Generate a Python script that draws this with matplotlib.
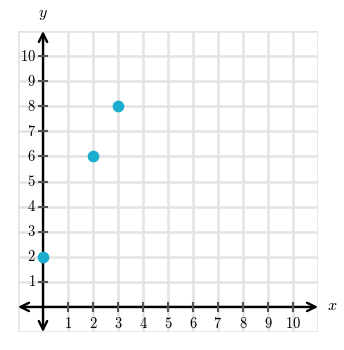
import matplotlib.pyplot as plt

# data points
xs = [0, 2, 3]
ys = [2, 6, 8]
ticks = list(range(1, 11))

plt.rcParams['mathtext.fontset'] = 'cm'

fig = plt.figure(figsize=(3.44, 3.5), dpi=100)
ax = fig.add_axes([18 / 344, 1 - 332 / 350, 300 / 344, 301 / 350])
ax.set_xlim(-1, 11)
ax.set_ylim(-1, 11)

# grid
for v in range(-1, 12):
    ax.axvline(v, color='#e3e3e3', lw=1.8, zorder=0)
    ax.axhline(v, color='#e3e3e3', lw=1.8, zorder=0)

for s in ax.spines.values():
    s.set_visible(False)
ax.set_xticks([])
ax.set_yticks([])

# axes with arrows
arrow = dict(arrowstyle='<->', color='black', lw=1.7, mutation_scale=15,
             shrinkA=0, shrinkB=0)
ax.annotate('', xy=(11, 0), xytext=(-1, 0), arrowprops=arrow, zorder=2)
ax.annotate('', xy=(0, 11), xytext=(0, -1), arrowprops=arrow, zorder=2)

# tick marks and labels
for t in ticks:
    ax.plot([t, t], [-0.2, 0.2], color='#555555', lw=1.5, zorder=3,
            solid_capstyle='butt')
    ax.plot([-0.2, 0.2], [t, t], color='#555555', lw=1.5, zorder=3,
            solid_capstyle='butt')
    ax.text(t, -0.35, f'${t}$', ha='center', va='top', fontsize=10.5)
    ax.text(-0.28, t, f'${t}$', ha='right', va='center', fontsize=10.5)

ax.text(11.35, 0.05, '$x$', ha='left', va='center', fontsize=11.5, clip_on=False)
ax.text(0, 11.35, '$y$', ha='center', va='bottom', fontsize=11.5, clip_on=False)

ax.scatter(xs, ys, s=55, color='#1aadce', zorder=4, clip_on=False)

fig.savefig('out.png', dpi=100)
